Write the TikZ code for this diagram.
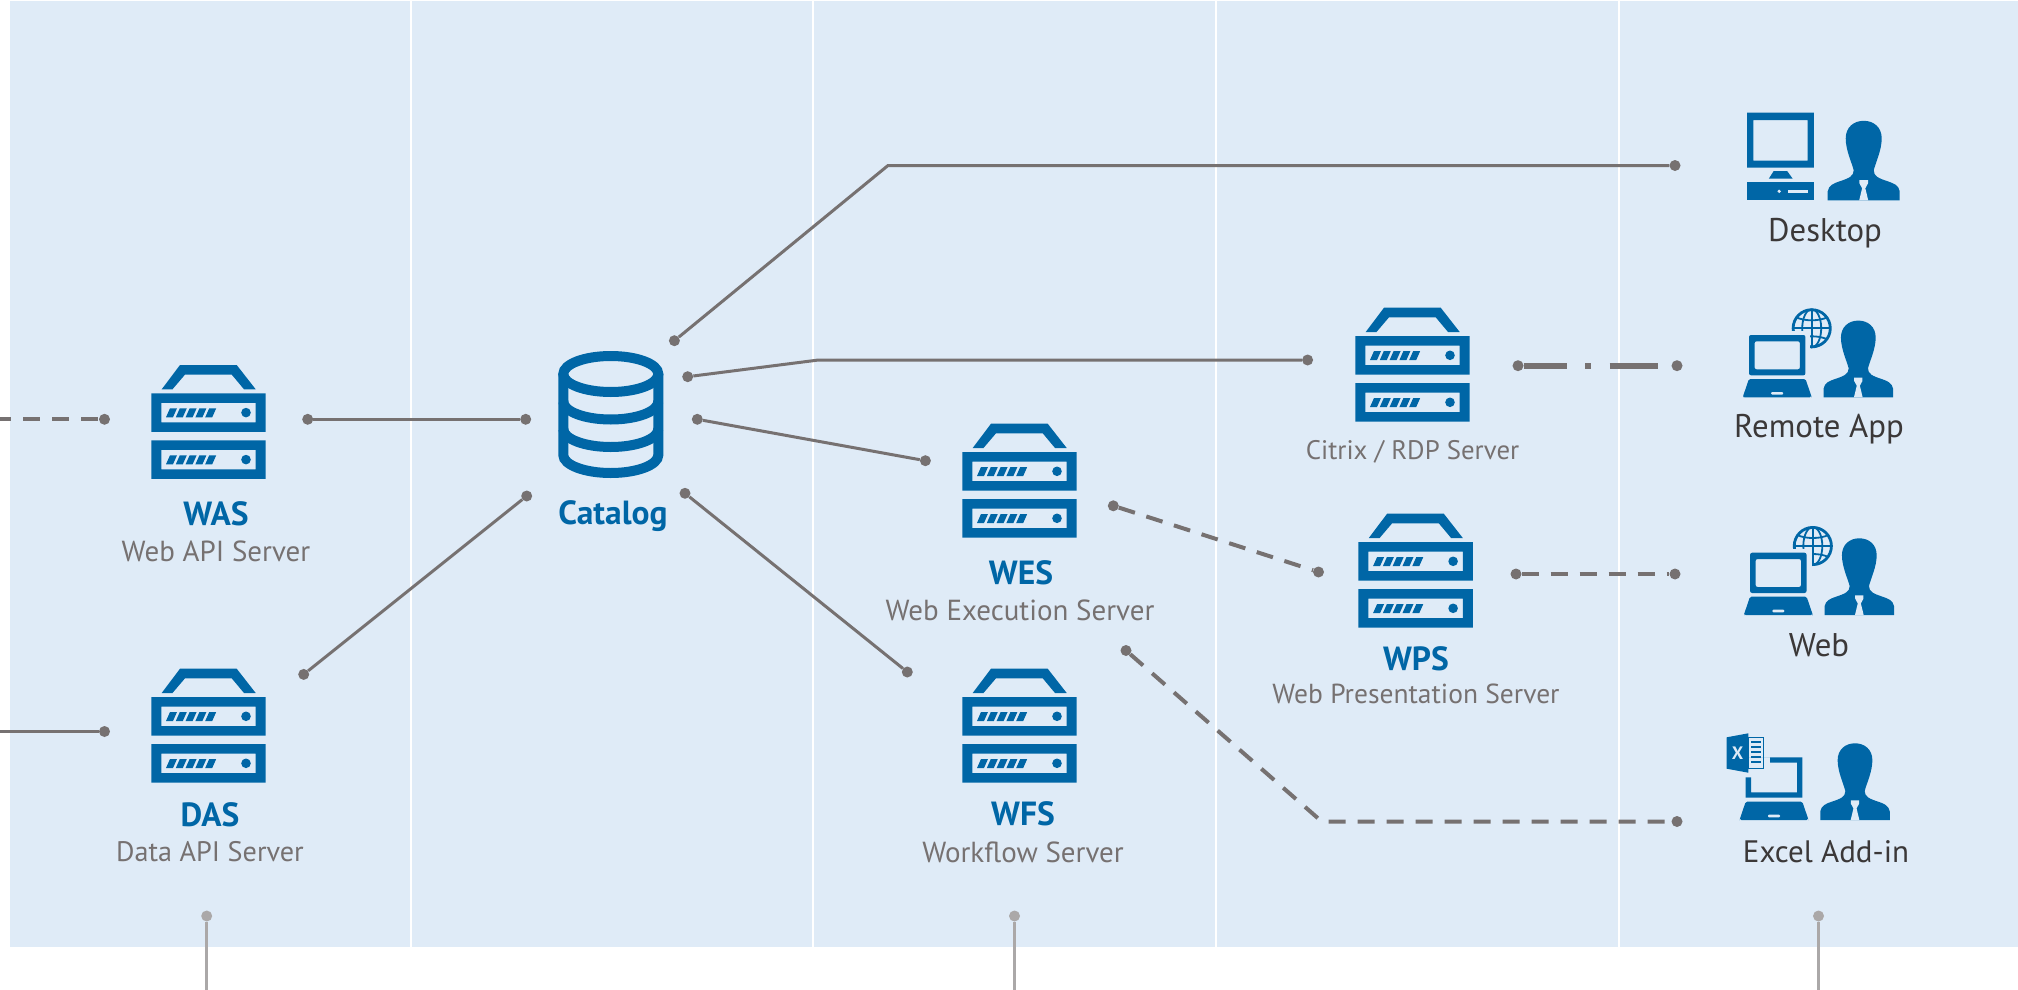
\documentclass[tikz,border=0pt]{standalone}
\usepackage{tikz}
\usepackage{xcolor}
\usepackage{fontspec}
\setmainfont{PT Sans}

\definecolor{panelbg}{HTML}{DFEBF7}
\definecolor{iconblue}{HTML}{0066A6}
\definecolor{linegray}{HTML}{767171}
\definecolor{stubgray}{HTML}{ABA8A8}
\definecolor{namegray}{HTML}{767171}
\definecolor{userdark}{HTML}{3B3838}

\tikzset{
	dotpt/.style={circle, fill=linegray, inner sep=0, minimum size=11pt},
	stubpt/.style={circle, fill=stubgray, inner sep=0, minimum size=11pt},
	wire/.style={draw=linegray, line width=3pt},
	dashwire/.style={draw=linegray, line width=4pt, dash pattern=on 17pt off 12pt},
	stub/.style={draw=stubgray, line width=3pt},
	srvname/.style={text=iconblue, font=\fontsize{33.5}{34}\selectfont\bfseries},
	srvdesc/.style={text=namegray, font=\fontsize{29}{30}\selectfont},
	username/.style={text=userdark, font=\fontsize{32.8}{34}\selectfont},
	server/.pic={
		\fill[iconblue] (-46.8,-4) -- (-28.5,-28.3) -- (28.2,-28.3) -- (47.2,-4) -- (35.5,-4) -- (23.2,-18.7) -- (-23.5,-18.7) -- (-36,-4) -- cycle;
		\foreach \yy in {0,47}{
			\fill[iconblue, even odd rule] (-57.2,\yy) rectangle (57.2,\yy+38.5) (-47.2,\yy+9.5) rectangle (47.2,\yy+29);
			\foreach \ii in {0,...,4}
				\fill[iconblue] (-42.5+9.8*\ii,\yy+24) -- (-38.5+9.8*\ii,\yy+15) -- (-31.5+9.8*\ii,\yy+15) -- (-35.5+9.8*\ii,\yy+24) -- cycle;
			\fill[iconblue] (37.5,\yy+19.3) circle (4.8);
		}
	},
	person/.pic={
		\fill[iconblue] (-36,0) -- (-36,-9) .. controls (-35,-15) and (-30,-17) .. (-24,-19) .. controls (-15,-22) and (-10,-24) .. (-10,-30) .. controls (-12,-38) and (-18,-50) .. (-18,-62) .. controls (-18,-73) and (-10,-79.5) .. (0,-79.5) .. controls (10,-79.5) and (18,-73) .. (18,-62) .. controls (18,-50) and (12,-38) .. (10,-30) .. controls (10,-24) and (15,-22) .. (24,-19) .. controls (30,-17) and (35,-15) .. (36,-9) -- (36,0) -- cycle;
		\fill[panelbg] (-4.3,-20.3) -- (4.3,-20.3) -- (4.3,-17) -- (1.6,-12) -- (4.5,0) -- (-4.5,0) -- (-1.6,-12) -- (-4.3,-17) -- cycle;
	},
	laptopbase/.pic={
		\fill[iconblue, rounded corners=1.5pt] (-28.3,-18.3) -- (28.3,-18.3) -- (34.2,-1) -- (34.2,0) -- (-34.2,0) -- (-34.2,-1) -- cycle;
		\fill[panelbg, rounded corners=1pt] (-6,-5.3) rectangle (6,-2.7);
	},
	globelaptop/.pic={
		% globe, its lower left part goes behind the screen
		\draw[iconblue, line width=2.8pt] (34.5,-69) circle (18.6);
		\draw[iconblue, line width=1.8pt] (34.5,-88) -- (34.5,-50) (16,-69) -- (53,-69);
		\draw[iconblue, line width=1.8pt] (34.5,-69) ellipse (9.5 and 19);
		\draw[iconblue, line width=1.8pt] (19,-80) .. controls (27,-76) and (42,-76) .. (50,-80) (19,-58) .. controls (27,-62) and (42,-62) .. (50,-58);
		\fill[panelbg] (12,-66) rectangle (33.2,-44);
		\fill[iconblue, rounded corners=2pt, even odd rule] (-28.2,-62.3) rectangle (28.2,-22) (-22.7,-56) rectangle (22.7,-28);
		\pic {laptopbase};
	},
	desktopbox/.pic={
		\fill[iconblue, even odd rule] (-33.4,-87.6) rectangle (33.4,-32.6) (-27,-80.3) rectangle (27.3,-39.6);
		\fill[iconblue] (-6.7,-29.3) -- (6.7,-29.3) -- (12.3,-21.6) -- (-11.6,-21.6) -- cycle;
		\fill[iconblue] (-33.4,-18.3) rectangle (33.4,0);
		\fill[panelbg] (-1.2,-9) circle (1.8);
		\fill[panelbg] (7.1,-10.7) rectangle (28,-7);
	},
	excellaptop/.pic={
		\fill[iconblue] (-28.3,-62.7) -- (28.3,-62.7) -- (28.3,-22.3) -- (-28.3,-22.3) -- (-28.3,-42.7) -- (-23,-42.7) -- (-23,-27.7) -- (23,-27.7) -- (23,-57.3) -- (-4,-57.3) -- (-4,-62.7) -- cycle;
		\fill[iconblue] (-47.3,-82.7) -- (-25.7,-86.7) -- (-25.7,-47.3) -- (-47.3,-51.3) -- cycle;
		\draw[iconblue, line width=1pt] (-25.7,-82.7) rectangle (-10.7,-51.7);
		\foreach \yy in {-78,-73,-68,-63,-58}
			\draw[iconblue, line width=2.6pt] (-23,\yy) -- (-13,\yy);
		\node[text=panelbg, font=\fontsize{18}{18}\selectfont\bfseries] (xlmark) at (-36.5,-67) {X};
		\pic {laptopbase};
	}
}

\begin{document}
\begin{tikzpicture}[x=1pt, y=-1pt]
	\useasboundingbox (0,0) rectangle (2018,990);

	% panels
	\fill[panelbg] (10,1.5) rectangle (2018,947);
	\foreach \xx in {410.6,813,1215.6,1619}
		\draw[white, line width=2pt] (\xx,0) -- (\xx,947);

	% icons
	\pic at (208.5,393.3) {server};
	\pic at (208.5,697) {server};
	\pic at (1019.5,452) {server};
	\pic at (1019.5,697) {server};
	\pic at (1412.5,336) {server};
	\pic at (1415.6,542) {server};

	\draw[iconblue, line width=10pt] (610.8,374) ellipse (47.5 and 18);
	\draw[iconblue, line width=10pt] (563.3,374) -- (563.3,455) arc (180:0:47.5 and 18) -- (658.3,374);
	\draw[iconblue, line width=10pt] (563.3,401.5) arc (180:0:47.5 and 18);
	\draw[iconblue, line width=10pt] (563.3,429) arc (180:0:47.5 and 18);

	\pic at (1780.4,200.3) {desktopbox};
	\pic at (1863.7,200.3) {person};
	\pic at (1777.2,397.3) {globelaptop};
	\pic[scale=0.965] at (1858.3,397.3) {person};
	\pic at (1778.3,615) {globelaptop};
	\pic[scale=0.965] at (1859.3,615) {person};
	\pic at (1774,820) {excellaptop};
	\pic[scale=0.965] at (1855,820) {person};

	% end points of the lines
	\node[dotpt] (catA) at (674.4,340.7) {};
	\node[dotpt] (catB) at (687.7,376.7) {};
	\node[dotpt] (catC) at (697.3,419.3) {};
	\node[dotpt] (catD) at (685,493.3) {};
	\node[dotpt] (catE) at (525.7,419.3) {};
	\node[dotpt] (catF) at (526.7,496) {};
	\node[dotpt] (wasL) at (104.5,419.3) {};
	\node[dotpt] (wasR) at (307.7,419.3) {};
	\node[dotpt] (dasL) at (104.5,731.5) {};
	\node[dotpt] (dasR) at (303.7,674.4) {};
	\node[dotpt] (wesL) at (925.4,460.7) {};
	\node[dotpt] (wesR) at (1113.3,505.8) {};
	\node[dotpt] (wesB) at (1126,650.5) {};
	\node[dotpt] (wfsL) at (907.3,672) {};
	\node[dotpt] (rdpL) at (1307.6,360) {};
	\node[dotpt] (rdpR) at (1518,365.7) {};
	\node[dotpt] (wpsL) at (1318.5,572) {};
	\node[dotpt] (wpsR) at (1516,574) {};
	\node[dotpt] (deskpt) at (1675,165.5) {};
	\node[dotpt] (remotept) at (1677,365.7) {};
	\node[dotpt] (webpt) at (1675,574) {};
	\node[dotpt] (xlpt) at (1677,821.5) {};
	\node[stubpt] (stubA) at (206.7,916) {};
	\node[stubpt] (stubB) at (1014.5,916) {};
	\node[stubpt] (stubC) at (1818.5,916) {};

	\coordinate (deskbend) at (888,165.5);
	\coordinate (rdpbend) at (818.5,360);
	\coordinate (xlbend) at (1321.7,821.5);
	\coordinate (wasfree) at (0,419.3);
	\coordinate (dasfree) at (0,731.5);
	\coordinate (stubAend) at (206.7,990);
	\coordinate (stubBend) at (1014.5,990);
	\coordinate (stubCend) at (1818.5,990);

	% lines
	\draw[wire] (catA) -- (deskbend) -- (deskpt);
	\draw[wire] (catB) -- (rdpbend) -- (rdpL);
	\draw[wire] (catC) -- (wesL);
	\draw[wire] (catD) -- (wfsL);
	\draw[wire] (wasR) -- (catE);
	\draw[wire] (dasR) -- (catF);
	\draw[wire] (dasfree) -- (dasL);
	\draw[dashwire, dash phase=6pt] (wasfree) -- (wasL);
	\draw[dashwire] (wesR) -- (wpsL);
	\draw[dashwire] (wpsR) -- (webpt);
	\draw[dashwire] (wesB) -- (xlbend) -- (xlpt);
	\draw[draw=linegray, line width=6.3pt, dash pattern=on 43.2pt off 18.3pt on 6pt off 18.3pt on 48.4pt off 100pt] (rdpR) -- (remotept);
	\draw[stub] (stubA) -- (stubAend);
	\draw[stub] (stubB) -- (stubBend);
	\draw[stub] (stubC) -- (stubCend);

	% labels
	\node[srvname] (wasname) at (216,514) {WAS};
	\node[srvdesc] (wasdesc) at (216,551) {Web API Server};
	\node[srvname] (dasname) at (210,815) {DAS};
	\node[srvdesc, font=\fontsize{28.2}{30}\selectfont] (dasdesc) at (210,852) {Data API Server};
	\node[srvname] (catname) at (613,516) {Catalog};
	\node[srvname] (wesname) at (1021,573) {WES};
	\node[srvdesc] (wesdesc) at (1020,610) {Web Execution Server};
	\node[srvname] (wfsname) at (1023,814) {WFS};
	\node[srvdesc] (wfsdesc) at (1023,852) {Workflow Server};
	\node[srvdesc, font=\fontsize{26.8}{30}\selectfont] (rdpdesc) at (1412.5,452) {Citrix / RDP Server};
	\node[srvname] (wpsname) at (1416,659) {WPS};
	\node[srvdesc, font=\fontsize{27.5}{30}\selectfont] (wpsdesc) at (1416,694) {Web Presentation Server};
	\node[username] (deskname) at (1825,233) {Desktop};
	\node[username] (remotename) at (1819,429) {Remote App};
	\node[username] (webname) at (1819,645.5) {Web};
	\node[username, font=\fontsize{31}{34}\selectfont] (xlname) at (1826,852) {Excel Add-in};
\end{tikzpicture}
\end{document}
